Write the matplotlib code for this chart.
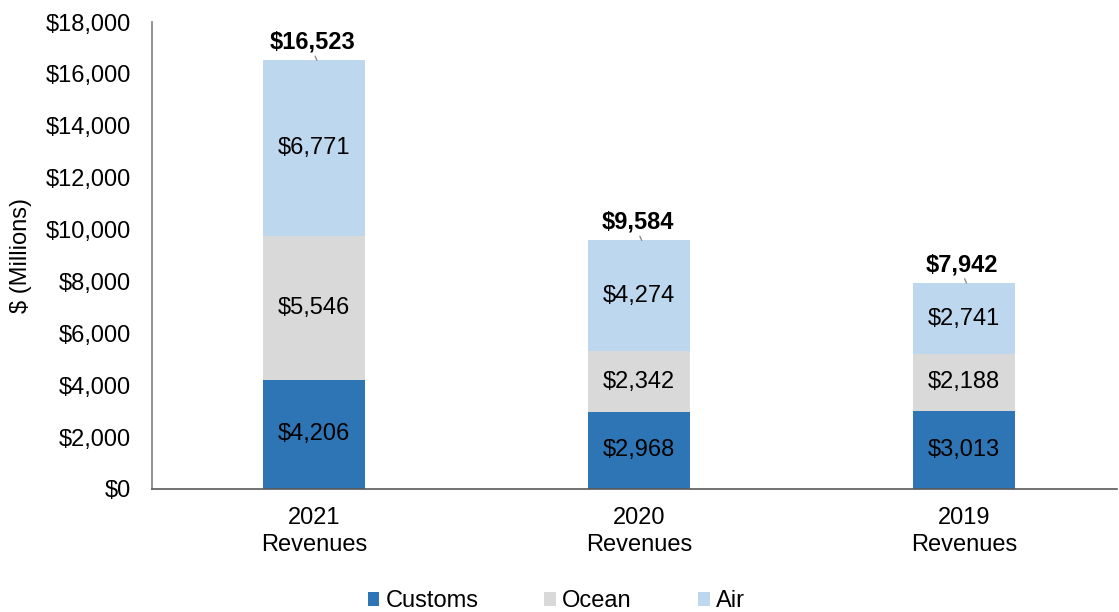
import matplotlib.pyplot as plt

plt.rcParams['font.family'] = ['Liberation Sans', 'DejaVu Sans']

years = ['2021\nRevenues', '2020\nRevenues', '2019\nRevenues']
customs = [4206, 2968, 3013]
ocean = [5546, 2342, 2188]
air = [6771, 4274, 2741]
totals = [16523, 9584, 7942]

colors = {'Customs': '#2E75B6', 'Ocean': '#D9D9D9', 'Air': '#BDD7EE'}
fs = 17

fig = plt.figure(figsize=(11.19, 6.12), dpi=100)
ax = fig.add_axes([0.1358, 0.201, 0.862, 0.763])

x = list(range(len(years)))
w = 0.314
bottom = [0, 0, 0]
for name, vals in [('Customs', customs), ('Ocean', ocean), ('Air', air)]:
    ax.bar(x, vals, w, bottom=bottom, color=colors[name], label=name)
    for i, v in enumerate(vals):
        ax.text(x[i], bottom[i] + v / 2, '${:,}'.format(v), ha='center', va='center',
                fontsize=fs, color='black')
    bottom = [b + v for b, v in zip(bottom, vals)]

# totals with a short leader line down to the bar top
for i, t in enumerate(totals):
    ax.annotate('${:,}'.format(t), xy=(x[i] + 0.008, t), xytext=(-3, 5),
                textcoords='offset points', ha='center', va='bottom',
                fontsize=fs, fontweight='bold',
                arrowprops=dict(arrowstyle='-', color='#909090', lw=1,
                                shrinkA=0, shrinkB=0, relpos=(0.5, 0.1)))

ax.set_xlim(-0.5, 2.47)
ax.set_ylim(0, 18000)
ax.set_yticks(range(0, 18001, 2000))
ax.set_yticklabels(['${:,}'.format(v) for v in range(0, 18001, 2000)], fontsize=fs)
ax.set_xticks(x)
ax.set_xticklabels(years, fontsize=fs, linespacing=1.3)
ax.tick_params(axis='y', length=0, pad=15)
ax.tick_params(axis='x', length=0, pad=13)
ax.set_ylabel('$ (Millions)', fontsize=fs, labelpad=10)

for s in ['top', 'right']:
    ax.spines[s].set_visible(False)
ax.spines['left'].set_color('#808080')
ax.spines['left'].set_linewidth(1.2)
ax.spines['bottom'].set_color('#595959')
ax.spines['bottom'].set_linewidth(1.2)

fig.legend(loc='lower center', bbox_to_anchor=(0.497, -0.035), ncol=3, frameon=False,
           fontsize=fs, handlelength=0.5, handleheight=0.5, handletextpad=0.25,
           columnspacing=2.8)

fig.savefig('out.png', dpi=100)
